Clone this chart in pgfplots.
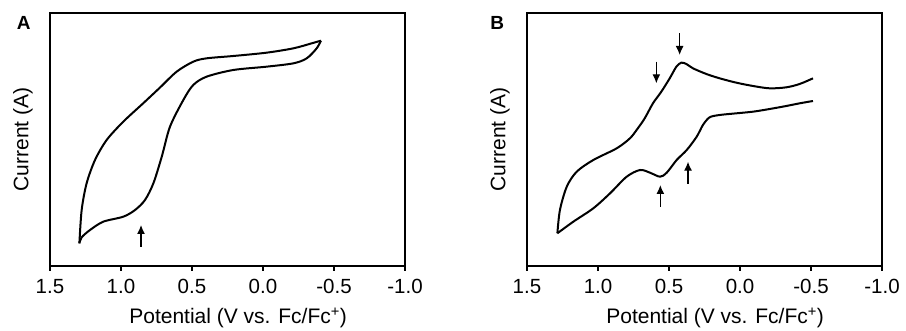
\documentclass[border=0pt]{standalone}
\usepackage{fontspec}
\setmainfont{Liberation Sans}
\usepackage{pgfplots}
\pgfplotsset{compat=1.18}
\usetikzlibrary{arrows.meta}
\begin{document}
\begin{tikzpicture}
\path[use as bounding box] (0pt,0pt) rectangle (906pt,331pt);
\pgfplotsset{cvstyle/.style={
  scale only axis, width=355pt, height=253pt,
  xmin=-1, xmax=1.5, x dir=reverse, ymin=0, ymax=253,
  xtick={-1,-0.5,0,0.5,1,1.5},
  xticklabels={-1.0,-0.5,0.0,0.5,1.0,1.5},
  ytick=\empty,
  xtick pos=left,
  tick align=outside, major tick length=5pt,
  axis line style={line width=1.5pt},
  every tick/.style={line width=1.4pt, black},
  ticklabel style={font=\fontsize{20.5}{24}\selectfont},
  xticklabel style={yshift=-5pt},
  label style={font=\fontsize{21}{24}\selectfont},
  xlabel={Potential (V vs. Fc/Fc\textsuperscript{+})},
  ylabel={Current (A)},
  xlabel style={at={(axis description cs:0.53,0)}, anchor=base, yshift=-58pt},
  ylabel style={at={(axis description cs:-0.076,0.5)}, anchor=center},
  clip=false,
}}
\begin{axis}[cvstyle, at={(50pt,65pt)}, anchor=south west]
\addplot[black, line width=2pt, smooth, tension=0.5] coordinates {
(1.293,22.67) (1.277,56) (1.242,82.7) (1.183,106) (1.101,126) (0.984,144.3)
(0.843,162.8) (0.725,178.5) (0.608,194.33) (0.491,204.33)
(0.397,207.67) (0.209,210) (-0.026,213.33) (-0.214,217.67) (-0.343,222.67) (-0.408,225.33)};
\addplot[black, line width=2pt, smooth, tension=0.5] coordinates {
(-0.408,225.33) (-0.378,217.67) (-0.308,207.67) (-0.214,202.67) (-0.026,199.33)
(0.209,196) (0.397,189.33) (0.491,181) (0.561,166) (0.655,139.3) (0.713,109.3)
(0.772,82.7) (0.831,66) (0.901,56) (0.984,49.3) (1.125,44.3) (1.218,36)
(1.277,28.67) (1.293,22.67)};
\draw[line width=1.3pt, -{Latex[length=9pt,width=8pt]}] (axis cs:0.859,19.33) -- (axis cs:0.859,41);
\end{axis}
\node[font=\fontsize{19}{22}\selectfont\bfseries] at (23.7pt,308pt) {A};
\begin{axis}[cvstyle, at={(527pt,65pt)}, anchor=south west]
\addplot[black, line width=2pt, smooth, tension=0.5] coordinates {
(1.286,32.7) (1.268,56) (1.220,79.3) (1.150,94.3) (1.033,106) (0.868,117.7)
(0.775,127.7) (0.723,137) (0.671,147.67) (0.613,162.67) (0.554,174.33) (0.495,187.67) (0.448,199.33)
(0.413,203.33) (0.378,202) (0.331,197.67) (0.237,192) (0.143,187.67)
(0.026,183.33) (-0.092,180) (-0.209,177.67) (-0.326,178.67) (-0.420,182) (-0.514,187.67)};
\addplot[black, line width=2pt, smooth, tension=0.5] coordinates {
(1.286,32.7) (1.174,44.3) (1.033,57.7) (0.915,72.7) (0.798,89.3) (0.704,96)
(0.634,93.3) (0.563,89.3) (0.516,93.3) (0.446,106) (0.375,116) (0.305,129.3)
(0.261,141) (0.214,148.67) (0.143,151) (0.026,152.67) (-0.092,154.33) (-0.209,157)
(-0.326,160) (-0.420,162.67) (-0.514,165)};
\draw[line width=1.3pt, -{Latex[length=9pt,width=8pt]}] (axis cs:0.425,232.67) -- (axis cs:0.425,211);
\draw[line width=1.3pt, -{Latex[length=9pt,width=8pt]}] (axis cs:0.589,204.33) -- (axis cs:0.589,182.67);
\draw[line width=1.3pt, -{Latex[length=9pt,width=8pt]}] (axis cs:0.561,59.33) -- (axis cs:0.561,81);
\draw[line width=1.3pt, -{Latex[length=9pt,width=8pt]}] (axis cs:0.366,82) -- (axis cs:0.366,104.33);
\end{axis}
\node[font=\fontsize{19}{22}\selectfont\bfseries] at (497.3pt,308pt) {B};
\end{tikzpicture}
\end{document}
